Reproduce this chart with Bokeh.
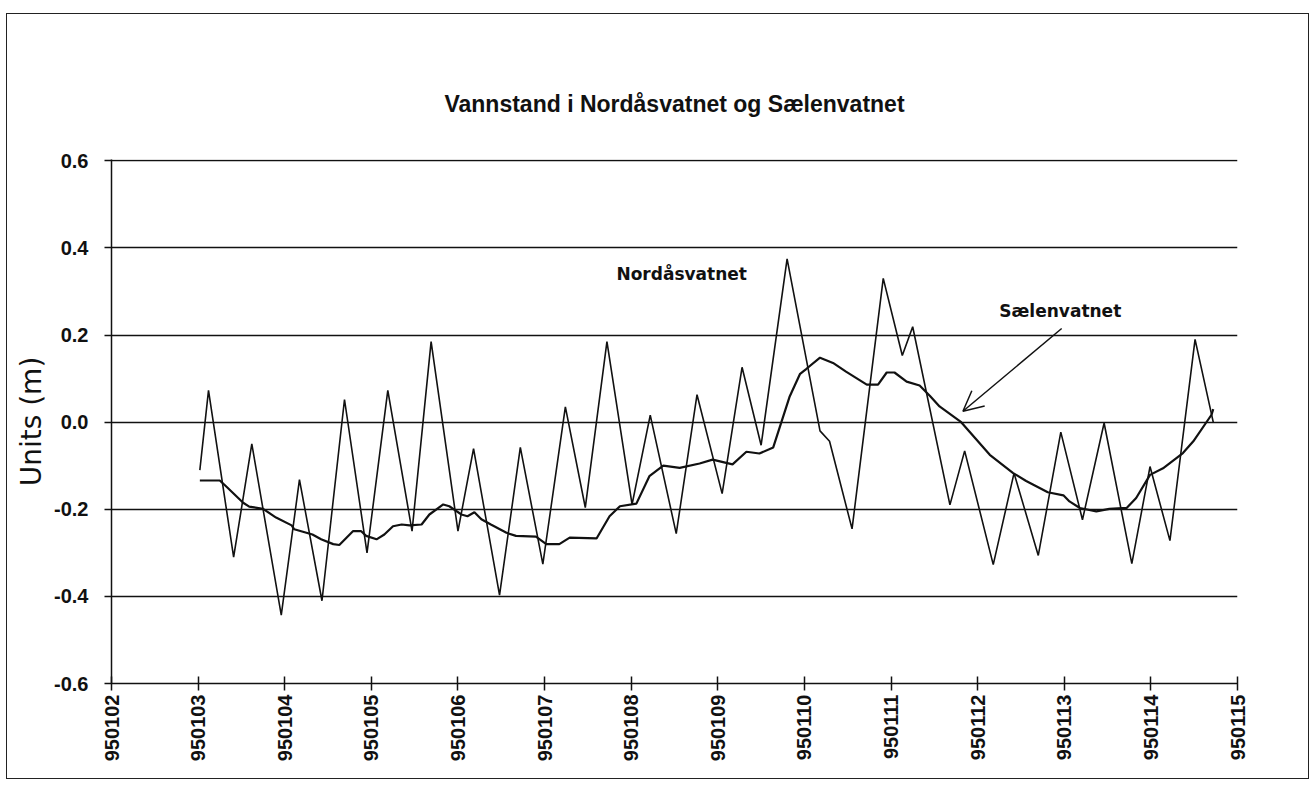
from math import pi
from bokeh.plotting import figure
from bokeh.models import FixedTicker, Arrow, OpenHead, Label, Range1d, PrintfTickFormatter
from bokeh.embed import file_html
from bokeh.resources import INLINE

# ---- data ----
title_text = "Vannstand i Nordåsvatnet og Sælenvatnet"
x_ticks = [950102, 950103, 950104, 950105, 950106, 950107, 950108,
           950109, 950110, 950111, 950112, 950113, 950114, 950115]
x_tick_labels = [str(t) for t in x_ticks]
y_ticks = [-0.6, -0.4, -0.2, 0.0, 0.2, 0.4, 0.6]

nord_x = [950103.02, 950103.12, 950103.41, 950103.62, 950103.96, 950104.17, 950104.43,
          950104.69, 950104.95, 950105.19, 950105.47, 950105.69, 950106.00, 950106.18,
          950106.48, 950106.72, 950106.98, 950107.24, 950107.47, 950107.72, 950108.01,
          950108.22, 950108.52, 950108.76, 950109.05, 950109.28, 950109.50, 950109.80,
          950110.18, 950110.29, 950110.55, 950110.91, 950111.13, 950111.25, 950111.68,
          950111.85, 950112.18, 950112.42, 950112.70, 950112.96, 950113.21, 950113.46,
          950113.78, 950113.99, 950114.22, 950114.51, 950114.72]
nord_y = [-0.110, 0.073, -0.310, -0.050, -0.443, -0.132, -0.410,
          0.052, -0.300, 0.073, -0.250, 0.185, -0.250, -0.061,
          -0.397, -0.058, -0.326, 0.035, -0.196, 0.185, -0.189,
          0.016, -0.256, 0.063, -0.164, 0.126, -0.053, 0.375,
          -0.020, -0.044, -0.245, 0.330, 0.153, 0.219, -0.190,
          -0.066, -0.327, -0.117, -0.306, -0.023, -0.224, -0.002,
          -0.325, -0.102, -0.272, 0.190, 0.000]

sael_x = [950103.02, 950103.25, 950103.31, 950103.40, 950103.52, 950103.59, 950103.75,
          950103.90, 950104.08, 950104.11, 950104.32, 950104.42, 950104.56, 950104.63,
          950104.79, 950104.88, 950104.94, 950105.06, 950105.15, 950105.25, 950105.35,
          950105.44, 950105.58, 950105.67, 950105.83, 950105.90, 950106.04, 950106.11,
          950106.19, 950106.27, 950106.38, 950106.56, 950106.67, 950106.90, 950107.02,
          950107.17, 950107.29, 950107.60, 950107.75, 950107.87, 950108.06, 950108.21,
          950108.37, 950108.56, 950108.79, 950108.94, 950109.17, 950109.33, 950109.48,
          950109.64, 950109.83, 950109.95, 950110.02, 950110.18, 950110.33, 950110.48,
          950110.60, 950110.72, 950110.85, 950110.95, 950111.04, 950111.18, 950111.33,
          950111.45, 950111.56, 950111.81, 950112.14, 950112.41, 950112.56, 950112.81,
          950112.99, 950113.06, 950113.18, 950113.37, 950113.52, 950113.72, 950113.83,
          950113.99, 950114.14, 950114.37, 950114.49, 950114.70, 950114.72]
sael_y = [-0.134, -0.134, -0.145, -0.162, -0.185, -0.194, -0.199,
          -0.219, -0.237, -0.246, -0.258, -0.269, -0.280, -0.282,
          -0.250, -0.250, -0.261, -0.269, -0.258, -0.239, -0.235,
          -0.237, -0.235, -0.212, -0.189, -0.193, -0.212, -0.216,
          -0.207, -0.223, -0.235, -0.254, -0.261, -0.263, -0.280,
          -0.280, -0.265, -0.267, -0.216, -0.193, -0.187, -0.124,
          -0.100, -0.105, -0.095, -0.086, -0.097, -0.068, -0.072,
          -0.058, 0.059, 0.111, 0.122, 0.148, 0.136, 0.116,
          0.101, 0.086, 0.086, 0.114, 0.114, 0.093, 0.084,
          0.060, 0.036, 0.000, -0.075, -0.117, -0.135, -0.161,
          -0.168, -0.182, -0.197, -0.205, -0.199, -0.197, -0.174,
          -0.121, -0.106, -0.071, -0.044, 0.017, 0.030]

nord_label = ("Nordåsvatnet", 950107.83, 0.34)
sael_label = ("Sælenvatnet", 950112.25, 0.255)
arrow_from = (950112.97, 0.215)
arrow_to = (950111.83, 0.025)

# ---- figure ----
p = figure(frame_width=1126, frame_height=524,
           min_border_left=104, min_border_right=71,
           min_border_top=145, min_border_bottom=95,
           x_range=Range1d(x_ticks[0], x_ticks[-1]),
           y_range=Range1d(y_ticks[0], y_ticks[-1] + 0.003),
           output_backend="svg", toolbar_location=None, title=title_text)
p.styles = {"border": "1.5px solid #222", "margin-left": "6px", "margin-top": "13px"}
p.outline_line_color = None
p.background_fill_color = "white"
p.border_fill_color = "white"

p.title.align = "center"
p.title.text_font = "Liberation Sans"
p.title.text_font_size = "23px"
p.title.text_font_style = "bold"
p.title.text_color = "#111"
p.title.standoff = 86

p.xgrid.grid_line_color = None
p.ygrid.grid_line_color = "#111"
p.ygrid.grid_line_width = 1.5
p.ygrid.ticker = FixedTicker(ticks=y_ticks)

p.xaxis.ticker = FixedTicker(ticks=x_ticks)
p.xaxis.major_label_overrides = {t: l for t, l in zip(x_ticks, x_tick_labels)}
p.xaxis.major_label_orientation = pi / 2
p.xaxis.major_tick_in = 7
p.xaxis.major_tick_out = 7
p.xaxis.minor_tick_line_color = None
p.xaxis.major_label_standoff = 4

p.yaxis.ticker = FixedTicker(ticks=y_ticks)
p.yaxis.formatter = PrintfTickFormatter(format="%.1f")
p.yaxis.major_tick_in = 0
p.yaxis.major_tick_out = 7
p.yaxis.minor_tick_line_color = None
p.yaxis.major_label_standoff = 16
p.yaxis.axis_label = "Units (m)"
p.yaxis.axis_label_text_font = "DejaVu Sans"
p.yaxis.axis_label_text_font_size = "28px"
p.yaxis.axis_label_text_font_style = "normal"
p.yaxis.axis_label_text_color = "#111"
p.yaxis.axis_label_standoff = 3

for ax in (p.xaxis, p.yaxis):
    ax.axis_line_color = "#111"
    ax.axis_line_width = 1.5
    ax.major_tick_line_color = "#111"
    ax.major_tick_line_width = 1.5
    ax.major_label_text_font = "Liberation Sans"
    ax.major_label_text_font_size = "20px"
    ax.major_label_text_font_style = "bold"
    ax.major_label_text_color = "#111"

p.line(nord_x, nord_y, line_color="#111", line_width=1.6)
p.line(sael_x, sael_y, line_color="#111", line_width=2.2)

for txt, lx, ly in (nord_label, sael_label):
    p.add_layout(Label(x=lx, y=ly, text=txt, text_font="DejaVu Sans", text_font_size="17px",
                       text_font_style="bold", text_color="#111", text_baseline="middle"))

p.add_layout(Arrow(end=OpenHead(size=20, line_color="#111", line_width=1.5),
                   x_start=arrow_from[0], y_start=arrow_from[1],
                   x_end=arrow_to[0], y_end=arrow_to[1],
                   line_color="#111", line_width=1.5))

open("out.html", "w").write(file_html(p, INLINE))
